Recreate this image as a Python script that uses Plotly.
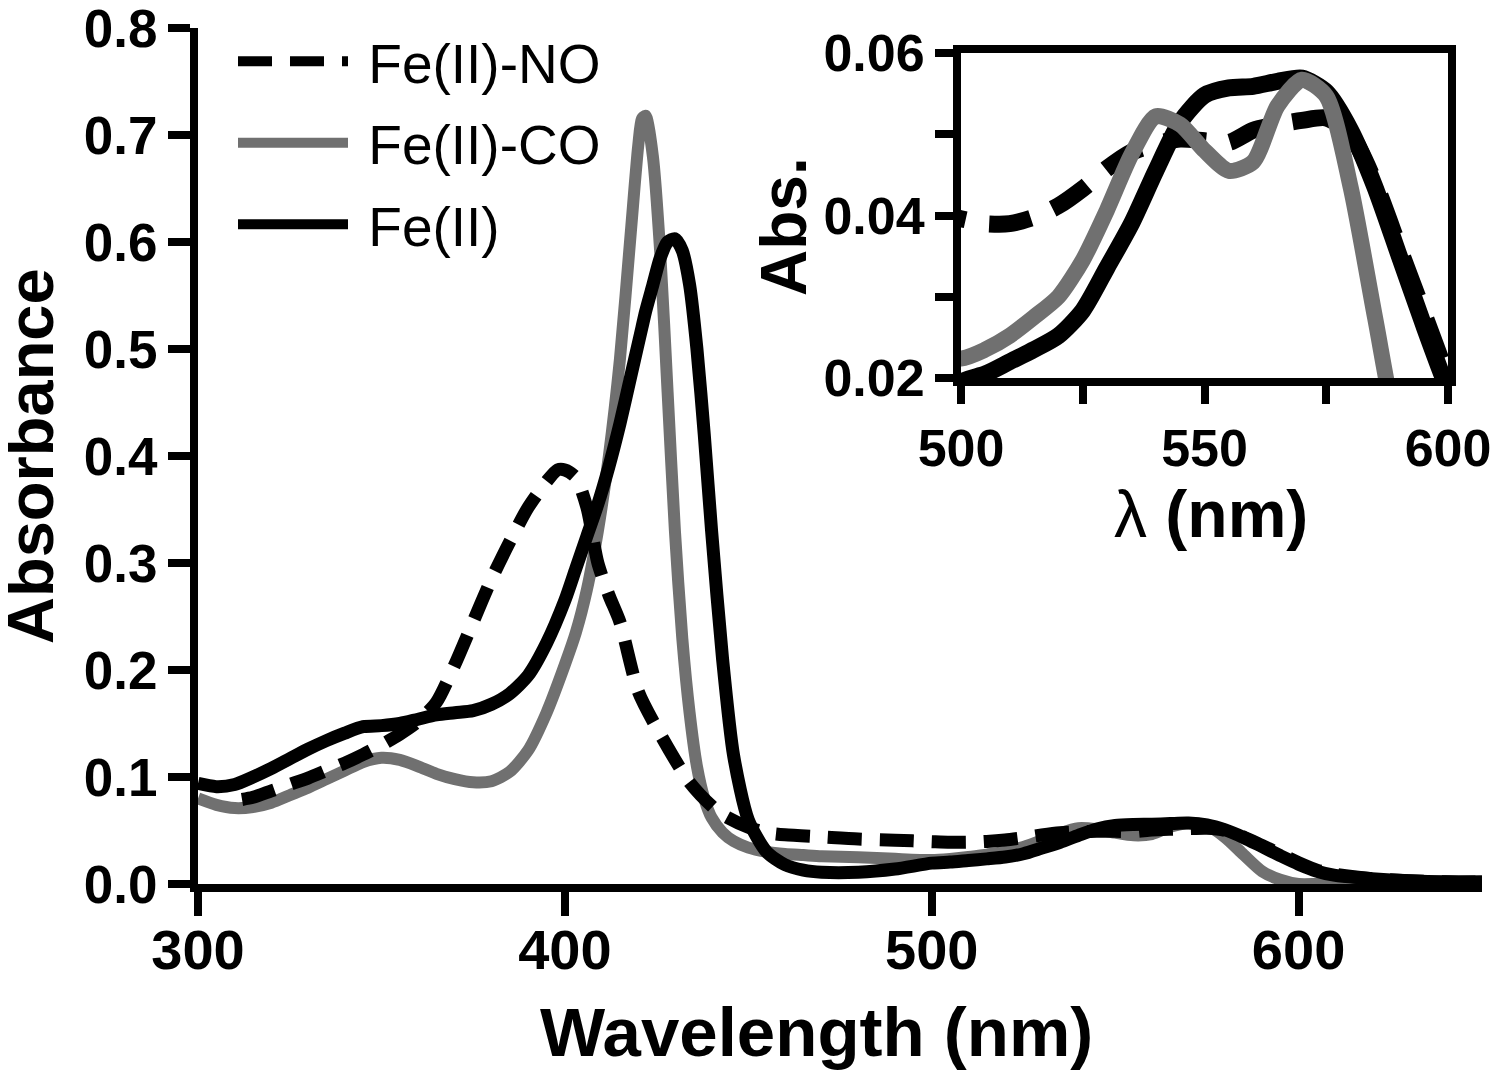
import plotly.graph_objects as go

# ---------------- data ----------------
wl = [300, 305, 310, 315, 320, 325, 330, 335, 340, 345, 350, 355, 360, 365, 370, 375,
      380, 385, 390, 395, 400, 403, 406, 409, 412, 415, 418, 420, 421, 422, 424, 426,
      428, 430, 432, 434, 436, 438, 440, 443, 446, 450, 455, 460, 465, 470, 480, 490,
      500, 505, 510, 515, 520, 525, 530, 535, 540, 545, 550, 555, 560, 565, 570, 575,
      580, 585, 590, 595, 600, 605, 610, 620, 630, 640, 650]

fe2 = [0.094, 0.091, 0.093, 0.100, 0.108, 0.117, 0.126, 0.134, 0.141, 0.147, 0.148, 0.150,
       0.154, 0.158, 0.160, 0.162, 0.168, 0.178, 0.195, 0.225, 0.265, 0.295, 0.325, 0.355,
       0.390, 0.430, 0.475, 0.505, 0.520, 0.535, 0.560, 0.585, 0.600, 0.603, 0.592, 0.560,
       0.500, 0.420, 0.330, 0.210, 0.120, 0.060, 0.030, 0.018, 0.013, 0.011, 0.011, 0.014,
       0.0195, 0.0205, 0.0220, 0.0235, 0.0252, 0.0283, 0.0336, 0.0390, 0.0455, 0.0515,
       0.0548, 0.0557, 0.0559, 0.0565, 0.0569, 0.0552, 0.0505, 0.0435, 0.0350, 0.0265,
       0.0185, 0.012, 0.008, 0.005, 0.003, 0.002, 0.002]

fe2_co = [0.080, 0.074, 0.071, 0.072, 0.076, 0.083, 0.090, 0.098, 0.106, 0.114, 0.118, 0.116,
          0.110, 0.103, 0.098, 0.095, 0.096, 0.105, 0.125, 0.160, 0.205, 0.235, 0.275, 0.330,
          0.400, 0.490, 0.610, 0.690, 0.715, 0.718, 0.680, 0.590, 0.460, 0.330, 0.230, 0.160,
          0.110, 0.080, 0.062, 0.048, 0.040, 0.034, 0.030, 0.028, 0.027, 0.026, 0.025, 0.0235,
          0.0224, 0.0235, 0.0252, 0.0275, 0.0300, 0.0345, 0.0407, 0.0475, 0.0522, 0.0512,
          0.0480, 0.0455, 0.0466, 0.0535, 0.0567, 0.0547, 0.0435, 0.0275, 0.0120, 0.0040,
          0.0, 0.0, 0.0, 0.0, 0.0, 0.0, 0.0]

wl_no = [312, 315, 320, 325, 330, 335, 340, 345, 350, 355, 360, 365, 370, 375, 380, 385,
         390, 395, 398, 400, 403, 406, 409, 412, 415, 420, 426, 434, 442, 450, 455, 460,
         470, 480, 490, 500, 505, 510, 515, 520, 525, 530, 535, 540, 545, 550, 555, 560,
         565, 570, 575, 580, 585, 590, 595, 600, 605, 610, 620, 630, 640, 650]

fe2_no = [0.079, 0.081, 0.087, 0.093, 0.099, 0.106, 0.113, 0.121, 0.130, 0.140, 0.152, 0.170,
          0.205, 0.245, 0.285, 0.320, 0.352, 0.376, 0.387, 0.387, 0.380, 0.352, 0.300, 0.270,
          0.245, 0.180, 0.140, 0.095, 0.067, 0.053, 0.048, 0.046, 0.044, 0.042, 0.041, 0.0396,
          0.0390, 0.0390, 0.0398, 0.0412, 0.0433, 0.0458, 0.0478, 0.0488, 0.0494, 0.0492,
          0.0490, 0.0505, 0.0512, 0.0517, 0.0520, 0.0500, 0.0440, 0.0360, 0.0280, 0.0200,
          0.013, 0.009, 0.005, 0.003, 0.002, 0.002]

names = ["Fe(II)-NO", "Fe(II)-CO", "Fe(II)"]
main_ticks_x = [300, 400, 500, 600]
main_ticks_y = [0.0, 0.1, 0.2, 0.3, 0.4, 0.5, 0.6, 0.7, 0.8]
inset_ticks_x = [500, 525, 550, 575, 600]
inset_ticklabels_x = ["500", "", "550", "", "600"]
inset_ticks_y = [0.02, 0.03, 0.04, 0.05, 0.06]
inset_ticklabels_y = ["0.02", "", "0.04", "", "0.06"]

# ---------------- styles / layout geometry ----------------
FAM = "Liberation Sans, Arial, Helvetica, sans-serif"
GRAY = "#707070"
BLACK = "#000000"
NB = "\u00a0"  # small gap between legend symbol and label

W, H = 1500, 1072
L, R, T, B = 190, 26, 20, 196
PW, PH = W - L - R, H - T - B


def px(xp):
    return (xp - L) / PW


def py(yp):
    return (H - B - yp) / PH


fig = go.Figure()

# main panel (gray underneath, dashed on top)
fig.add_trace(go.Scatter(x=wl, y=fe2_co, mode="lines", name=NB + names[1], legendrank=2,
                         legendgroup="co",
                         line=dict(color=GRAY, width=12, shape="spline", smoothing=0.7)))
fig.add_trace(go.Scatter(x=wl, y=fe2, mode="lines", name=NB + names[2], legendrank=3,
                         legendgroup="fe",
                         line=dict(color=BLACK, width=13, shape="spline", smoothing=0.7)))
fig.add_trace(go.Scatter(x=wl_no, y=fe2_no, mode="lines", name=NB + names[0], legendrank=1,
                         legendgroup="no",
                         line=dict(color=BLACK, width=13, dash="34px,18px",
                                   shape="spline", smoothing=0.7)))

# inset panel
fig.add_trace(go.Scatter(x=wl, y=fe2, mode="lines", showlegend=False, xaxis="x2", yaxis="y2",
                         line=dict(color=BLACK, width=17, shape="spline", smoothing=0.7)))
fig.add_trace(go.Scatter(x=wl_no, y=fe2_no, mode="lines", showlegend=False, xaxis="x2", yaxis="y2",
                         line=dict(color=BLACK, width=17, dash="42px,24px",
                                   shape="spline", smoothing=0.7)))
fig.add_trace(go.Scatter(x=wl, y=fe2_co, mode="lines", showlegend=False, xaxis="x2", yaxis="y2",
                         line=dict(color=GRAY, width=16, shape="spline", smoothing=0.7)))

xtickfont = dict(family=FAM, size=56, color=BLACK, weight="bold")
ytickfont = dict(family=FAM, size=53, color=BLACK, weight="bold")
inset_tickfont = dict(family=FAM, size=52, color=BLACK, weight="bold")
common = dict(showline=True, linecolor=BLACK, linewidth=8, ticks="outside", tickcolor=BLACK,
              tickwidth=8, showgrid=False, zeroline=False, automargin=False,
              ticklabeloverflow="allow")

fig.update_layout(
    width=W, height=H,
    margin=dict(l=L, r=R, t=T, b=B, autoexpand=False),
    paper_bgcolor="white", plot_bgcolor="white",
    xaxis=dict(range=[300, 650], tickvals=main_ticks_x, ticklen=24, tickfont=xtickfont,
               ticklabelstandoff=-14, domain=[0, 1], **common),
    yaxis=dict(range=[0, 0.8], tickvals=main_ticks_y, tickformat=".1f", ticklen=22,
               tickfont=ytickfont, domain=[0, 1], **common),
    xaxis2=dict(range=[500, 600], tickvals=inset_ticks_x, ticktext=inset_ticklabels_x,
                ticklen=18, tickfont=inset_tickfont, domain=[px(953), px(1440)], anchor="y2",
                mirror=True, **common),
    yaxis2=dict(range=[0.02, 0.06], tickvals=inset_ticks_y, ticktext=inset_ticklabels_y,
                ticklen=18, tickfont=inset_tickfont, domain=[py(370), py(45)], anchor="x2",
                mirror=True, **common),
    legend=dict(x=px(225), y=py(11), xanchor="left", yanchor="top", bgcolor="rgba(0,0,0,0)",
                font=dict(family=FAM, size=55, color=BLACK), itemwidth=110,
                tracegroupgap=7),
    showlegend=True,
)

fig.add_annotation(text="Absorbance", xref="paper", yref="paper", x=px(22),
                   y=0.5, textangle=-90, showarrow=False,
                   font=dict(family=FAM, size=65, color=BLACK, weight="bold"),
                   xanchor="center", yanchor="middle")
fig.add_annotation(text="Wavelength (nm)", xref="paper", yref="paper", x=px(808),
                   y=py(1024), showarrow=False,
                   font=dict(family=FAM, size=69, color=BLACK, weight="bold"),
                   xanchor="center", yanchor="middle")
fig.add_annotation(text="<span style='font-weight:normal'>λ</span> (nm)", xref="paper",
                   yref="paper", x=px(1203), y=py(506),
                   showarrow=False, font=dict(family=FAM, size=66, color=BLACK, weight="bold"),
                   xanchor="center", yanchor="middle")
fig.add_annotation(text="Abs.", xref="paper", yref="paper", x=px(776),
                   y=py(219), textangle=-90, showarrow=False,
                   font=dict(family=FAM, size=64, color=BLACK, weight="bold"),
                   xanchor="center", yanchor="middle")

fig.write_html("out.html")
